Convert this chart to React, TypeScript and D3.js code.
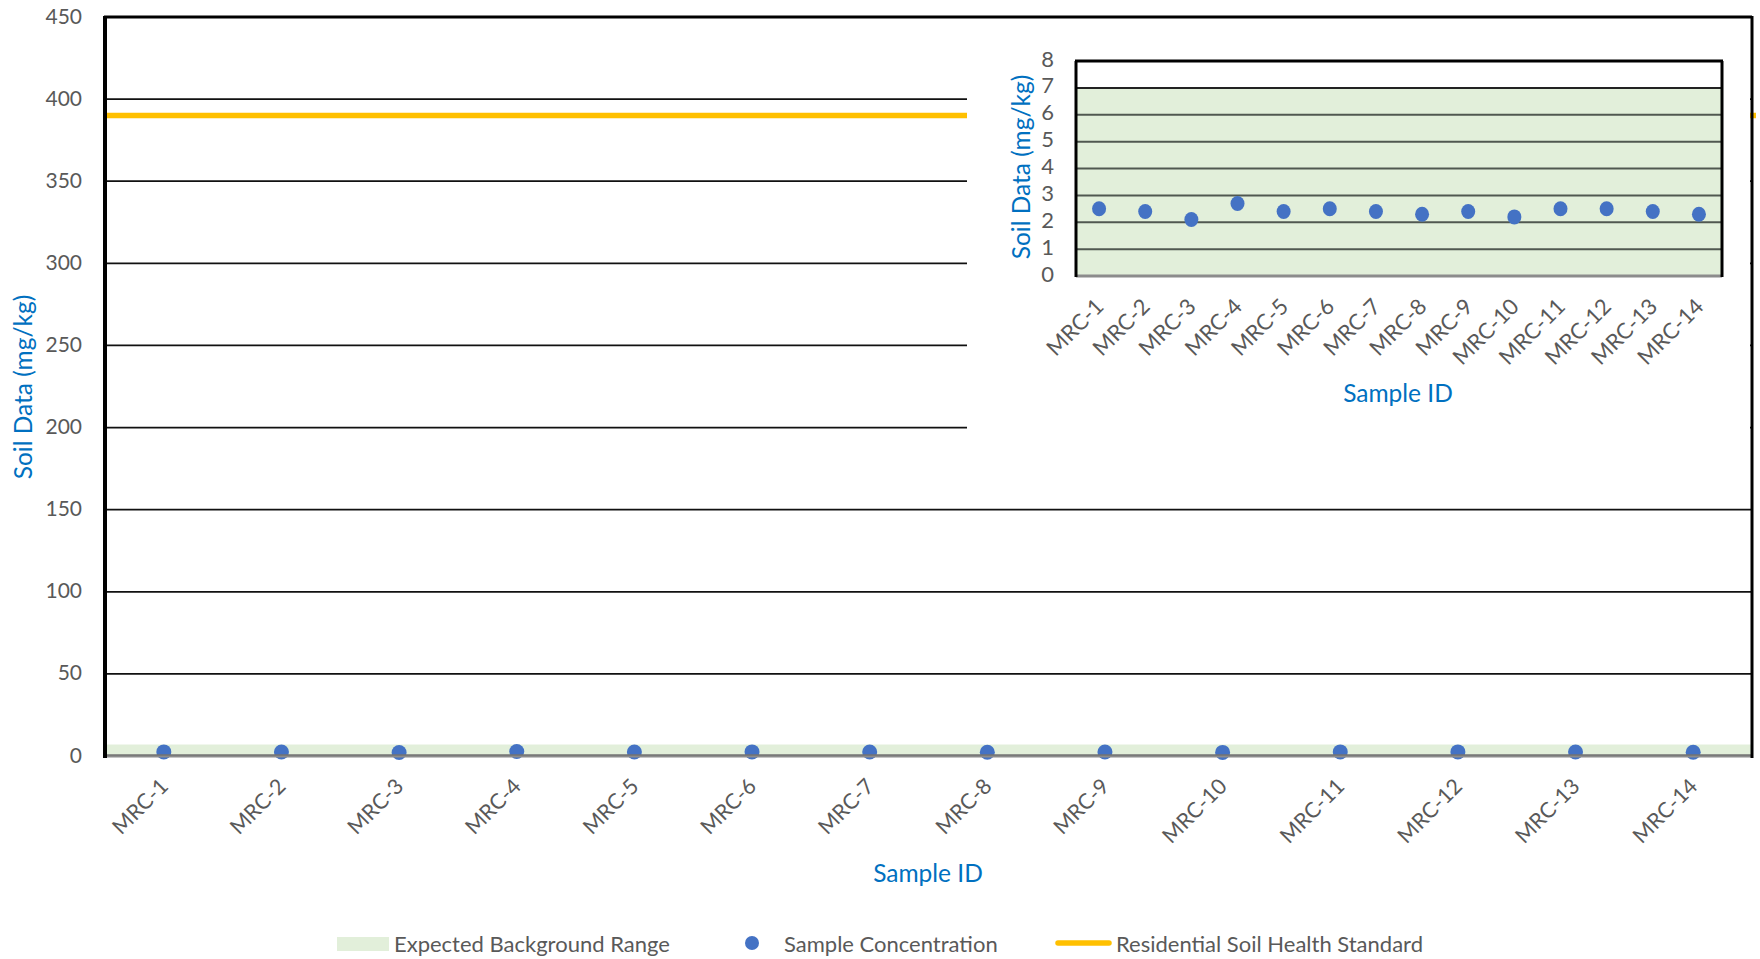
import React from "react";
import * as d3 from "d3";

const categories = ["MRC-1","MRC-2","MRC-3","MRC-4","MRC-5","MRC-6","MRC-7","MRC-8","MRC-9","MRC-10","MRC-11","MRC-12","MRC-13","MRC-14"];
const sampleValues = [2.5,2.4,2.1,2.7,2.4,2.5,2.4,2.3,2.4,2.2,2.5,2.5,2.4,2.3];
const backgroundRange = [0, 7];
const residentialStandard = 390;
const mainTicks = [0,50,100,150,200,250,300,350,400,450];
const insetTicks = [0,1,2,3,4,5,6,7,8];
const legendLabels = ["Expected Background Range","Sample Concentration","Residential Soil Health Standard"];

const FONT = "Lato, 'Open Sans', sans-serif";
const GREEN = "#E2EFDA";
const BLUE = "#4472C4";
const YELLOW = "#FFC000";
const TITLE = "#0070C0";
const LABEL = "#595959";

export default function App() {
  // main plot
  const M = { left: 105, right: 1752, top: 17, bottom: 756 };
  const x = d3.scaleBand().domain(categories).range([M.left, M.right]);
  const y = d3.scaleLinear().domain([0, 450]).range([M.bottom, M.top]);
  // inset plot
  const I = { left: 1076, right: 1722, top: 61, bottom: 276 };
  const xi = d3.scaleBand().domain(categories).range([I.left, I.right]);
  const yi = d3.scaleLinear().domain([0, 8]).range([I.bottom, I.top]);

  return (
    <svg width={1760} height={959} style={{ position: "absolute", left: 0, top: 0, background: "#fff" }} fontFamily={FONT}>
      {/* main background band */}
      <rect x={M.left} width={M.right - M.left} y={y(backgroundRange[1])} height={y(backgroundRange[0]) - y(backgroundRange[1])} fill={GREEN} />
      {/* main gridlines */}
      {mainTicks.filter(t => t > 0 && t < 450).map(t => (
        <line key={t} x1={M.left} x2={M.right} y1={y(t)} y2={y(t)} stroke="#111" strokeWidth={1.75} />
      ))}
      {/* standard line */}
      <line x1={M.left} x2={M.right + 4} y1={y(residentialStandard)} y2={y(residentialStandard)} stroke={YELLOW} strokeWidth={5.5} />
      {/* main points */}
      {sampleValues.map((v, i) => (
        <circle key={i} cx={x(categories[i])! + x.bandwidth() / 2} cy={y(v)} r={7.5} fill={BLUE} />
      ))}
      {/* main borders */}
      <line x1={M.left} x2={M.right} y1={M.bottom} y2={M.bottom} stroke="#8c8c8c" strokeWidth={3} />
      <line x1={M.left} x2={M.right} y1={M.bottom - 1} y2={M.bottom - 1} stroke="#666" strokeWidth={1} />
      <line x1={M.left - 1} x2={M.right} y1={M.top} y2={M.top} stroke="#000" strokeWidth={3} />
      <line x1={M.left} x2={M.left} y1={M.top - 1} y2={M.bottom + 2} stroke="#000" strokeWidth={4} />
      <line x1={M.right} x2={M.right} y1={M.top - 1} y2={M.bottom + 2} stroke="#000" strokeWidth={3} />
      {/* main y tick labels */}
      {mainTicks.map(t => (
        <text key={t} x={82} y={y(t) - 2} textAnchor="end" dominantBaseline="central" fontSize={21} fill={LABEL}>{t}</text>
      ))}
      {/* main x labels */}
      {categories.map(c => {
        const cx = x(c)! + x.bandwidth() / 2;
        const cy = M.bottom + 26;
        return (
          <text key={c} x={cx} y={cy} textAnchor="end" dominantBaseline="central" fontSize={21.5} fill={LABEL} transform={`rotate(-45 ${cx} ${cy})`}>{c}</text>
        );
      })}
      <text x={928} y={872} textAnchor="middle" dominantBaseline="central" fontSize={24.5} fill={TITLE}>Sample ID</text>
      <text transform="translate(22 387) rotate(-90)" textAnchor="middle" dominantBaseline="central" fontSize={24.5} fill={TITLE}>Soil Data (mg/kg)</text>

      {/* inset */}
      <rect x={967} y={19} width={M.right - 2 - 967} height={421} fill="#fff" />
      <rect x={I.left} width={I.right - I.left} y={yi(backgroundRange[1])} height={yi(backgroundRange[0]) - yi(backgroundRange[1])} fill={GREEN} />
      {insetTicks.filter(t => t > 0 && t < 8).map(t => (
        <line key={t} x1={I.left} x2={I.right} y1={yi(t)} y2={yi(t)} stroke={t === 7 ? "#222" : "#505850"} strokeWidth={2} />
      ))}
      {sampleValues.map((v, i) => (
        <ellipse key={i} cx={xi(categories[i])! + xi.bandwidth() / 2} cy={yi(v)} rx={7} ry={7.5} fill={BLUE} />
      ))}
      <line x1={I.left} x2={I.right} y1={I.bottom} y2={I.bottom} stroke="#8c8c8c" strokeWidth={3} />
      <line x1={I.left - 1} x2={I.right + 1} y1={I.top} y2={I.top} stroke="#000" strokeWidth={3} />
      <line x1={I.left} x2={I.left} y1={I.top} y2={I.bottom + 1} stroke="#000" strokeWidth={3} />
      <line x1={I.right} x2={I.right} y1={I.top} y2={I.bottom + 1} stroke="#000" strokeWidth={3} />
      {insetTicks.map(t => (
        <text key={t} x={1054} y={yi(t) - 3} textAnchor="end" dominantBaseline="central" fontSize={22} fill={LABEL}>{t}</text>
      ))}
      {categories.map(c => {
        const cx = xi(c)! + xi.bandwidth() / 2;
        const cy = I.bottom + 26;
        return (
          <text key={c} x={cx} y={cy} textAnchor="end" dominantBaseline="central" fontSize={22} fill={LABEL} transform={`rotate(-45 ${cx} ${cy})`}>{c}</text>
        );
      })}
      <text x={1398} y={392} textAnchor="middle" dominantBaseline="central" fontSize={24.5} fill={TITLE}>Sample ID</text>
      <text transform="translate(1020 167) rotate(-90)" textAnchor="middle" dominantBaseline="central" fontSize={24.5} fill={TITLE}>Soil Data (mg/kg)</text>

      {/* legend */}
      <rect x={337} y={937} width={52} height={14} fill={GREEN} />
      <text x={394} y={943} dominantBaseline="central" fontSize={22} fill={LABEL}>{legendLabels[0]}</text>
      <circle cx={752} cy={943} r={7} fill={BLUE} />
      <text x={784} y={943} dominantBaseline="central" fontSize={22} fill={LABEL}>{legendLabels[1]}</text>
      <line x1={1058} x2={1109} y1={943} y2={943} stroke={YELLOW} strokeWidth={5.5} strokeLinecap="round" />
      <text x={1116} y={943} dominantBaseline="central" fontSize={22} fill={LABEL}>{legendLabels[2]}</text>
    </svg>
  );
}
